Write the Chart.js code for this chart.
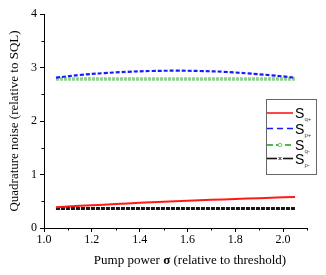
<!DOCTYPE html>
<html>
<head>
<meta charset="utf-8">
<script src="https://cdn.jsdelivr.net/npm/chart.js@4"></script>
<style>
  body { margin: 0; background: #fff; }
  #wrap { width: 326px; height: 275px; position: relative; }
</style>
</head>
<body>
<div id="wrap"><canvas id="grafica"></canvas></div>
<script>
// Значения по оси X (мощность накачки)
const sigma = [1.05, 1.15, 1.25, 1.35, 1.45, 1.55, 1.65, 1.75, 1.85, 1.95, 2.05];

// Серии шумов
const sQPlus  = [0.39, 0.415, 0.435, 0.46, 0.48, 0.50, 0.52, 0.535, 0.55, 0.565, 0.58];
const sPPlus  = [2.81, 2.86, 2.895, 2.92, 2.935, 2.94, 2.935, 2.92, 2.89, 2.855, 2.81];
const sQMinus = [2.785, 2.785, 2.785, 2.785, 2.785, 2.785, 2.785, 2.785, 2.785, 2.785, 2.785];
const sPMinus = [0.365, 0.365, 0.365, 0.365, 0.365, 0.365, 0.365, 0.365, 0.365, 0.365, 0.365];

// Подписи делений
const xTicks = [1.0, 1.2, 1.4, 1.6, 1.8, 2.0];
const yTicks = [0, 1, 2, 3, 4];
const xMinor = [1.1, 1.3, 1.5, 1.7, 1.9, 2.1];
const yMinor = [0.5, 1.5, 2.5, 3.5];

// Легенда
const legendItems = [
  { sub: 'q+', color: '#ff1a1a', dash: [], marker: null },
  { sub: 'p+', color: '#1a1aff', dash: [6, 4], marker: null },
  { sub: 'q-', color: '#1a9a1a', dash: [6, 3], marker: 'circle' },
  { sub: 'p-', color: '#111111', dash: [], marker: 'cross' },
];

const serif = "'Liberation Serif', 'Times New Roman', serif";
const sans = "'Liberation Sans', Arial, sans-serif";

const toPoints = (arr) => sigma.map((x, i) => ({ x: x, y: arr[i] }));

// Плагин: малые деления, подписи осей, легенда
const extras = {
  id: 'extras',
  afterDraw(chart) {
    const ctx = chart.ctx;
    const xs = chart.scales.x, ys = chart.scales.y;
    const area = chart.chartArea;
    ctx.save();
    ctx.strokeStyle = '#000';
    ctx.lineWidth = 1;
    ctx.beginPath();
    xMinor.forEach(v => {
      const px = Math.round(xs.getPixelForValue(v)) + 0.5;
      ctx.moveTo(px, area.bottom);
      ctx.lineTo(px, area.bottom + 2.5);
    });
    yMinor.forEach(v => {
      const py = Math.round(ys.getPixelForValue(v)) + 0.5;
      ctx.moveTo(area.left, py);
      ctx.lineTo(area.left - 2.5, py);
    });
    ctx.stroke();

    // подпись оси Y
    ctx.fillStyle = '#000';
    ctx.font = '13px ' + serif;
    ctx.textAlign = 'center';
    ctx.textBaseline = 'middle';
    ctx.save();
    ctx.translate(15, (area.top + area.bottom) / 2);
    ctx.rotate(-Math.PI / 2);
    ctx.fillText('Quadrature noise (relative to SQL)', 0, 0);
    ctx.restore();

    // подпись оси X с жирной сигмой
    const p1 = 'Pump power ', p2 = '\u03c3', p3 = ' (relative to threshold)';
    ctx.font = '13px ' + serif;
    const w1 = ctx.measureText(p1).width, w3 = ctx.measureText(p3).width;
    ctx.font = 'bold 13px ' + serif;
    const w2 = ctx.measureText(p2).width;
    let tx = 190 - (w1 + w2 + w3) / 2;
    const ty = 261;
    ctx.textAlign = 'left';
    ctx.font = '13px ' + serif;
    ctx.fillText(p1, tx, ty); tx += w1;
    ctx.font = 'bold 13px ' + serif;
    ctx.fillText(p2, tx, ty); tx += w2;
    ctx.font = '13px ' + serif;
    ctx.fillText(p3, tx, ty);

    // легенда
    const bx = 266.5, by = 99.5, bw = 50, bh = 75;
    ctx.fillStyle = '#fff';
    ctx.fillRect(bx, by, bw, bh);
    ctx.strokeStyle = '#666';
    ctx.strokeRect(bx, by, bw, bh);
    const rows = [113, 128.5, 145, 158.5];
    legendItems.forEach((it, i) => {
      const y = rows[i];
      ctx.strokeStyle = it.color;
      ctx.lineWidth = 1.6;
      ctx.setLineDash(it.dash);
      ctx.beginPath();
      ctx.moveTo(267, y);
      ctx.lineTo(293, y);
      ctx.stroke();
      ctx.setLineDash([]);
      if (it.marker === 'circle') {
        ctx.fillStyle = '#fff';
        ctx.strokeStyle = '#6c6';
        ctx.lineWidth = 1;
        ctx.beginPath();
        ctx.arc(280, y, 1.8, 0, Math.PI * 2);
        ctx.fill();
        ctx.stroke();
      } else if (it.marker === 'cross') {
        ctx.fillStyle = '#fff';
        ctx.fillRect(277, y - 2, 6, 4);
        ctx.strokeStyle = '#222';
        ctx.lineWidth = 1;
        ctx.beginPath();
        ctx.moveTo(278.5, y - 1.5); ctx.lineTo(281.5, y + 1.5);
        ctx.moveTo(281.5, y - 1.5); ctx.lineTo(278.5, y + 1.5);
        ctx.stroke();
      }
      ctx.fillStyle = '#000';
      ctx.textAlign = 'left';
      ctx.textBaseline = 'alphabetic';
      ctx.font = '14px ' + sans;
      ctx.fillText('S', 295, y + 5);
      ctx.font = '6px ' + sans;
      ctx.fillStyle = '#444';
      ctx.fillText(it.sub, 304.5, y + 8);
    });
    ctx.restore();
  }
};

const myChart = new Chart(document.getElementById('grafica'), {
  type: 'line',
  data: {
    datasets: [
      {
        label: 'Sq+',
        data: toPoints(sQPlus),
        borderColor: '#ff1a1a',
        borderWidth: 2,
        pointRadius: 0,
        tension: 0.3,
      },
      {
        label: 'Sp+',
        data: toPoints(sPPlus),
        borderColor: '#1a1aff',
        borderWidth: 2.2,
        borderDash: [4, 2],
        pointRadius: 0,
        tension: 0.4,
      },
      {
        label: 'Sq-',
        data: toPoints(sQMinus),
        borderColor: '#8fd08f',
        borderWidth: 3.5,
        borderDash: [3, 1],
        pointRadius: 0,
      },
      {
        label: 'Sp-',
        data: toPoints(sPMinus),
        borderColor: '#161616',
        borderWidth: 3,
        borderDash: [4, 1],
        pointRadius: 0,
      },
    ]
  },
  options: {
    responsive: true,
    maintainAspectRatio: false,
    animation: false,
    layout: { padding: { left: 0, top: 14, right: 19, bottom: 0 } },
    plugins: {
      legend: { display: false },
      tooltip: { enabled: false },
    },
    scales: {
      x: {
        type: 'linear',
        min: 1.0,
        max: 2.1,
        afterBuildTicks: (s) => { s.ticks = xTicks.map(v => ({ value: v })); },
        afterFit: (s) => { s.height = 47; },
        ticks: {
          color: '#000',
          font: { family: serif, size: 12 },
          padding: 1,
          maxRotation: 0,
          callback: (v) => v.toFixed(1),
        },
        grid: { drawOnChartArea: false, tickLength: 4, color: '#000' },
        border: { display: true, color: '#000', width: 1 },
      },
      y: {
        min: 0,
        max: 4,
        afterBuildTicks: (s) => { s.ticks = yTicks.map(v => ({ value: v })); },
        afterFit: (s) => { s.width = 44; },
        ticks: {
          color: '#000',
          font: { family: serif, size: 12 },
          padding: 3,
        },
        grid: { drawOnChartArea: false, tickLength: 4, color: '#000' },
        border: { display: true, color: '#000', width: 1 },
      }
    }
  },
  plugins: [extras]
});
</script>
</body>
</html>
